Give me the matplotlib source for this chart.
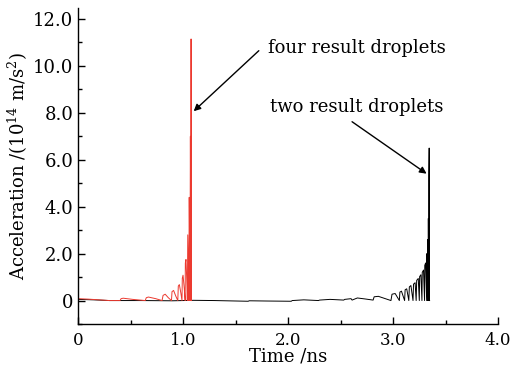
import matplotlib
matplotlib.use("Agg")
import matplotlib.pyplot as plt
from matplotlib.ticker import MultipleLocator, FixedLocator

plt.rcParams['font.family'] = ['DejaVu Serif']
plt.rcParams['mathtext.fontset'] = 'dejavuserif'

# ---- data ----
# four result droplets (red): vertices of the oscillation arcs, time in ns, accel in 1e14 m/s^2
red_t = [0.00, 0.10, 0.20, 0.30, 0.40, 0.41, 0.43, 0.52, 0.64, 0.65, 0.67, 0.74, 0.80,
         0.81, 0.83, 0.86, 0.89, 0.895, 0.91, 0.93, 0.95, 0.955, 0.965, 0.98, 0.99,
         0.993, 1.000, 1.012, 1.020, 1.022, 1.028, 1.038, 1.041, 1.045, 1.053, 1.055,
         1.059, 1.065, 1.066, 1.070, 1.074, 1.075, 1.0765, 1.078, 1.080]
red_a = [0.08, 0.06, 0.03, 0.00, 0.00, 0.08, 0.10, 0.05, 0.00, 0.12, 0.15, 0.08, 0.00,
         0.22, 0.27, 0.12, 0.00, 0.38, 0.43, 0.20, 0.00, 0.62, 0.68, 0.30, 0.00,
         0.95, 1.08, 0.50, 0.00, 1.60, 1.75, 0.60, 0.00, 2.80, 1.00, 0.00,
         4.40, 1.20, 0.00, 7.00, 2.00, 0.00, 11.15, 0.00, 0.00]

# two result droplets (black)
blk_t = [0.00, 0.15, 0.30, 0.60, 0.90, 1.10, 1.30, 1.62, 1.63, 1.80, 2.03, 2.04, 2.15,
         2.29, 2.30, 2.40, 2.53, 2.54, 2.60, 2.61, 2.66, 2.73, 2.81, 2.82, 2.86, 2.92,
         2.98, 2.99, 3.02, 3.06, 3.065, 3.08, 3.11, 3.115, 3.13, 3.15, 3.155, 3.17, 3.19,
         3.195, 3.21, 3.22, 3.225, 3.24, 3.25, 3.253, 3.265, 3.275, 3.278, 3.29, 3.30,
         3.302, 3.31, 3.32, 3.322, 3.328, 3.330, 3.334, 3.336, 3.339, 3.341, 3.344, 3.346, 3.348]
blk_a = [0.05, 0.03, 0.00, 0.00, -0.01, 0.01, 0.00, -0.03, -0.01, -0.02, -0.03, 0.00, 0.03,
         0.00, 0.02, 0.05, 0.02, 0.05, 0.08, 0.02, 0.11, 0.07, 0.02, 0.16, 0.18, 0.09,
         0.00, 0.27, 0.30, 0.00, 0.36, 0.40, 0.00, 0.46, 0.50, 0.00, 0.58, 0.64, 0.00,
         0.70, 0.76, 0.00, 0.86, 0.94, 0.00, 1.02, 1.10, 0.00, 1.20, 1.30, 0.00,
         1.50, 1.60, 0.00, 2.00, 0.00, 2.60, 0.00, 3.50, 0.00, 5.30, 6.50, 0.00, 0.00]

x_ticks = [0, 1.0, 2.0, 3.0, 4.0]
x_tick_labels = ["0", "1.0", "2.0", "3.0", "4.0"]
y_ticks = [0, 2.0, 4.0, 6.0, 8.0, 10.0, 12.0]
y_tick_labels = ["0", "2.0", "4.0", "6.0", "8.0", "10.0", "12.0"]

fig = plt.figure(figsize=(5.14, 3.72), dpi=100)
ax = fig.add_axes([0.1518, 0.129, 0.8172, 0.8495])

ax.plot(blk_t, blk_a, color='black', lw=0.7)
ax.plot(red_t, red_a, color='#ec3a30', lw=0.7)

ax.set_xlim(0, 4.0)
ax.set_ylim(-1.0, 12.47)

ax.xaxis.set_major_locator(FixedLocator(x_ticks))
ax.set_xticklabels(x_tick_labels)
ax.yaxis.set_major_locator(FixedLocator(y_ticks))
ax.set_yticklabels(y_tick_labels)
ax.xaxis.set_minor_locator(MultipleLocator(0.5))
ax.yaxis.set_minor_locator(MultipleLocator(1.0))

for s in ['top', 'right']:
    ax.spines[s].set_visible(False)
for s in ['left', 'bottom']:
    ax.spines[s].set_linewidth(1.0)

ax.tick_params(which='major', direction='in', length=5, width=1.0, labelsize=13)
ax.tick_params(axis='x', labelsize=12)
ax.tick_params(which='minor', direction='in', length=3, width=1.0)
ax.tick_params(axis='x', pad=6)

ax.set_xlabel('Time /ns', fontsize=13, labelpad=-1)
ax.set_ylabel(r'Acceleration /(10$^{14}$ m/s$^{2}$)', fontsize=13, labelpad=2)

ax.annotate('', xy=(1.082, 7.99), xytext=(1.741, 10.73),
            arrowprops=dict(arrowstyle='-|>', color='black', lw=1.0, mutation_scale=10))
ax.text(1.807, 10.77, 'four result droplets', fontsize=13, va='center', ha='left')

ax.annotate('', xy=(3.341, 5.34), xytext=(2.588, 7.69),
            arrowprops=dict(arrowstyle='-|>', color='black', lw=1.0, mutation_scale=10))
ax.text(1.826, 8.25, 'two result droplets', fontsize=13, va='center', ha='left')

fig.savefig('out.png', dpi=100)
